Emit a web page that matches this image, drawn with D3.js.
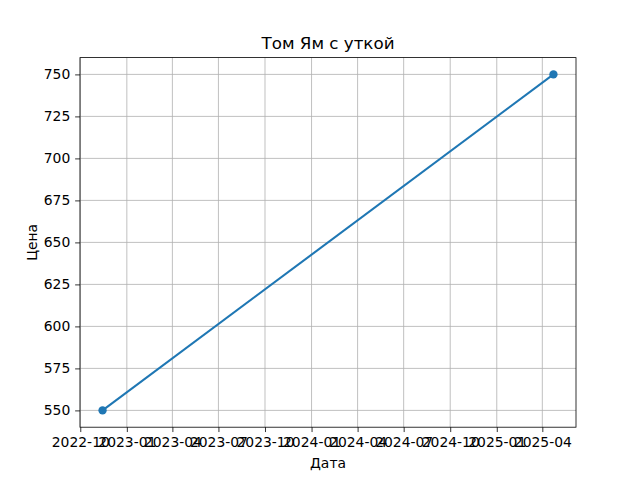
<!DOCTYPE html>
<html><head><meta charset="utf-8">
<script src="https://cdn.jsdelivr.net/npm/d3@7"></script>
<style>body{margin:0;background:#fff}svg{display:block}text{font-family:"DejaVu Sans",sans-serif}</style>
</head><body>
<svg id="c" width="640" height="480"></svg>
<script>
const dates = ["2022-11-14", "2025-04-23"];
const prices = [550, 750];
const yTicks = [550, 575, 600, 625, 650, 675, 700, 725, 750];
const xTickLabels = ["2022-10","2023-01","2023-04","2023-07","2023-10","2024-01","2024-04","2024-07","2024-10","2025-01","2025-04"];
const title = "Том Ям с уткой";
const xLabel = "Дата";
const yLabel = "Цена";

const W = 640, H = 480;
const L = 80, R = 576, T = 57.6, B = 427.2;
const svg = d3.select("#c");
const parse = d3.utcParse("%Y-%m-%d");
const data = dates.map((d, i) => ({date: parse(d), v: prices[i]}));
const x0 = data[0].date.getTime(), x1 = data[data.length-1].date.getTime();
const pad = (x1 - x0) * 0.05;
const x = d3.scaleUtc().domain([new Date(x0 - pad), new Date(x1 + pad)]).range([L, R]);
const y = d3.scaleLinear().domain([540, 760]).range([B, T]);
const xTicks = xTickLabels.map(s => parse(s + "-01"));

svg.append("rect").attr("width", W).attr("height", H).attr("fill", "#fff");
const g = svg.append("g");
// grid
g.selectAll(".gx").data(xTicks).join("line")
  .attr("x1", d => x(d)).attr("x2", d => x(d)).attr("y1", T).attr("y2", B)
  .attr("stroke", "#b0b0b0").attr("stroke-width", 0.8);
g.selectAll(".gy").data(yTicks).join("line")
  .attr("x1", L).attr("x2", R).attr("y1", d => y(d)).attr("y2", d => y(d))
  .attr("stroke", "#b0b0b0").attr("stroke-width", 0.8);

// line
const line = d3.line().x(d => x(d.date)).y(d => y(d.v));
g.append("path").datum(data).attr("d", line).attr("fill", "none")
  .attr("stroke", "#1f77b4").attr("stroke-width", 2.08);
g.selectAll(".pt").data(data).join("circle")
  .attr("cx", d => x(d.date)).attr("cy", d => y(d.v)).attr("r", 4.17).attr("fill", "#1f77b4");

// axes
const fmt = d3.utcFormat("%Y-%m");
const xAxis = d3.axisBottom(x).tickValues(xTicks).tickFormat(fmt).tickSize(4.86).tickPadding(4.9);
const yAxis = d3.axisLeft(y).tickValues(yTicks).tickSize(4.86).tickPadding(4.9);
const gx = svg.append("g").attr("transform", `translate(0,${B})`).call(xAxis);
const gy = svg.append("g").attr("transform", `translate(${L},0)`).call(yAxis);
[gx, gy].forEach(a => {
  a.select(".domain").remove();
  a.selectAll("line").attr("stroke", "#000").attr("stroke-width", 0.8);
  a.selectAll("text").attr("font-size", "13.9px").attr("fill", "#000").attr("font-family", "DejaVu Sans");
});
// frame
svg.append("rect").attr("x", L).attr("y", T).attr("width", R - L).attr("height", B - T)
  .attr("fill", "none").attr("stroke", "#000").attr("stroke-width", 0.8);

svg.append("text").attr("x", (L + R) / 2).attr("y", 49).attr("text-anchor", "middle")
  .attr("font-size", "16.7px").text(title);
svg.append("text").attr("x", (L + R) / 2).attr("y", 468).attr("text-anchor", "middle")
  .attr("font-size", "13.9px").text(xLabel);
svg.append("text").attr("transform", `translate(37,${(T + B) / 2}) rotate(-90)`).attr("text-anchor", "middle")
  .attr("font-size", "13.9px").text(yLabel);
</script>
</body></html>
